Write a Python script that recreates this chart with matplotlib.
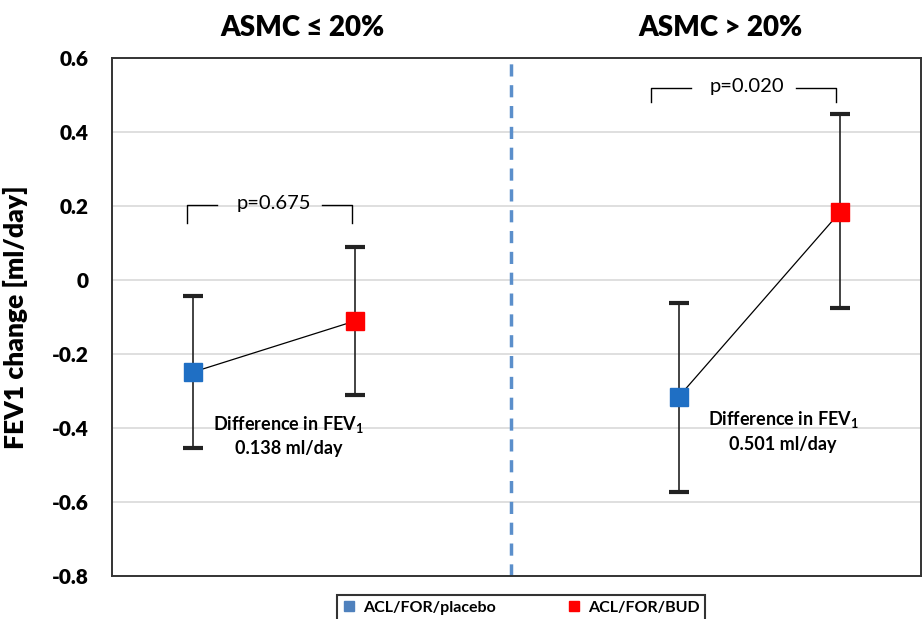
import numpy as np
import matplotlib.pyplot as plt
from matplotlib.lines import Line2D

plt.rcParams['font.family'] = ['Lato', 'DejaVu Sans']
plt.rcParams['font.weight'] = 'bold'

# group means and error bar ends (FEV1 change, ml/day)
groups = ["ASMC \u2264 20%", "ASMC > 20%"]
treatments = ["ACL/FOR/placebo", "ACL/FOR/BUD"]
placebo_mean = [-0.249, -0.316]
placebo_low = [-0.455, -0.573]
placebo_high = [-0.044, -0.062]
bud_mean = [-0.111, 0.185]
bud_low = [-0.312, -0.077]
bud_high = [0.089, 0.448]
p_values = ["p=0.675", "p=0.020"]
differences = ["0.138 ml/day", "0.501 ml/day"]
ytick_labels = ["-0.8", "-0.6", "-0.4", "-0.2", "0", "0.2", "0.4", "0.6"]

x_placebo = [1, 7]
x_bud = [3, 9]
blue = "#1F6FC4"
red = "#FF0000"

fig = plt.figure(figsize=(9.23, 6.19), dpi=100)
ax = fig.add_axes([0.1213, 0.0695, 0.877, 0.8368])

for i in range(2):
    ax.plot([x_placebo[i], x_bud[i]], [placebo_mean[i], bud_mean[i]],
            color="black", lw=0.9, zorder=3)
    for x, m, lo, hi, c in [(x_placebo[i], placebo_mean[i], placebo_low[i], placebo_high[i], blue),
                            (x_bud[i], bud_mean[i], bud_low[i], bud_high[i], red)]:
        ax.errorbar([x], [m], yerr=[[m - lo], [hi - m]], fmt="none",
                    ecolor="#222222", elinewidth=1.2, capsize=7, capthick=3, zorder=2)
        ax.plot([x], [m], marker="s", ms=13, color=c, mec=c, zorder=4, ls="none")

# significance brackets
brackets = [(0.93, 2.96, 0.203, 0.155), (6.66, 8.94, 0.519, 0.481)]
for (x0, x1, ytop, ybot), p in zip(brackets, p_values):
    xm = (x0 + x1) / 2
    ax.plot([x0, x0, xm - 0.65], [ybot, ytop, ytop], color="black", lw=1)
    ax.plot([xm + 0.65, x1, x1], [ytop, ytop, ybot], color="black", lw=1)
    ax.text(xm + 0.05, ytop + 0.005, p, ha="center", va="center",
            fontsize=14.5, fontweight="normal")

# difference labels
for xc, d in zip([2.18, 8.29], differences):
    yc = -0.39 if xc < 5 else -0.378
    ax.text(xc, yc, "Difference in FEV$_\\mathregular{1}$", ha="center", va="center",
            fontsize=13)
    ax.text(xc, yc - 0.066, d, ha="center", va="center", fontsize=13)

ax.axvline(4.93, color="#5B8FCB", lw=2.5, ls=(0, (3.5, 2.5)), zorder=1)

ax.set_xlim(0, 10)
ax.set_ylim(-0.8, 0.6)
ax.set_yticks(np.arange(-0.8, 0.61, 0.2))
ax.set_yticklabels(ytick_labels, fontweight="heavy", fontsize=15)
ax.set_xticks([])
ax.tick_params(axis="y", length=0, pad=17)
ax.yaxis.grid(True, color="#D9D9D9", lw=1.2)
ax.set_axisbelow(True)
for s in ax.spines.values():
    s.set_color("#333333")
    s.set_linewidth(1.4)
ax.set_ylabel("FEV1 change [ml/day]", fontsize=19, fontweight="heavy")
ax.yaxis.set_label_coords(-0.104, 0.5)

for xc, g in zip([302, 720], groups):
    fig.text(xc / 923, 1 - 28 / 619, g, ha="center", va="center", fontsize=20,
             fontweight="heavy")

handles = [Line2D([], [], marker="s", ls="none", color="#4F81BD", ms=7),
           Line2D([], [], marker="s", ls="none", color=red, ms=7)]
leg = fig.legend(handles, treatments, loc="center", bbox_to_anchor=(521 / 923, 0.018),
                 ncol=2, frameon=True, fontsize=11.5, columnspacing=4.5,
                 handlelength=0.8, handletextpad=0.5, borderpad=0.35, fancybox=False)
leg.get_frame().set_edgecolor("black")
leg.get_frame().set_linewidth(1.5)

fig.savefig("out.png", dpi=100)
